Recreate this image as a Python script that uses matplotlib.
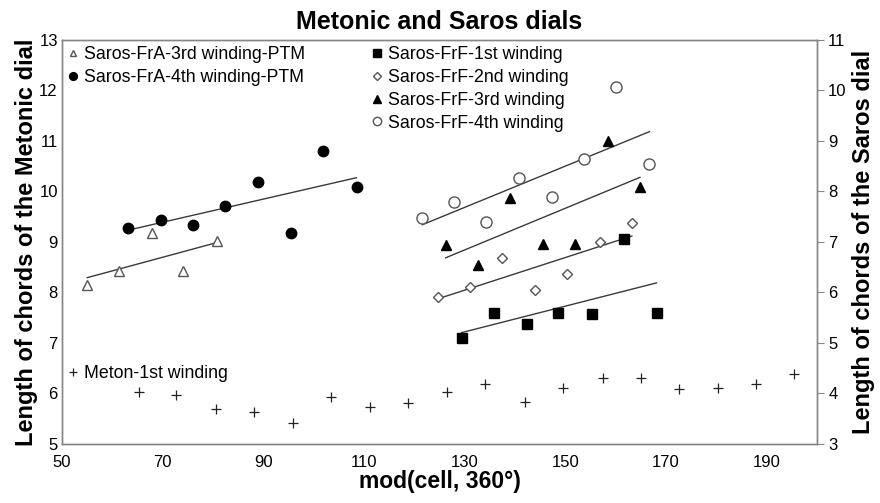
import numpy as np
import matplotlib.pyplot as plt

plt.rcParams['font.family'] = ['Liberation Sans', 'DejaVu Sans']

# Metonic dial (left axis)
meton_x = [65.2, 72.7, 80.6, 88.2, 95.9, 103.5, 111.2, 118.8, 126.4, 134.0,
           141.9, 149.6, 157.4, 165.0, 172.6, 180.3, 187.8, 195.5]
meton_y = [6.02, 5.98, 5.69, 5.64, 5.41, 5.94, 5.74, 5.81, 6.02, 6.18,
           5.84, 6.10, 6.30, 6.30, 6.09, 6.11, 6.19, 6.39]

# Saros dial (right axis)
fra3_x = [55.0, 61.4, 67.9, 74.1, 80.8]
fra3_y = [6.15, 6.43, 7.18, 6.43, 7.01]
fra4_x = [63.2, 69.7, 76.0, 82.4, 89.0, 95.4, 101.9, 108.5]
fra4_y = [7.28, 7.44, 7.34, 7.72, 8.18, 7.17, 8.80, 8.09]

frf1_x = [129.4, 135.8, 142.3, 148.6, 155.2, 161.6, 168.1]
frf1_y = [5.10, 5.60, 5.37, 5.59, 5.57, 7.05, 5.60]
frf2_x = [124.6, 131.1, 137.5, 143.9, 150.4, 156.9, 163.2]
frf2_y = [5.92, 6.10, 6.68, 6.05, 6.37, 6.99, 7.37]
frf3_x = [126.2, 132.6, 139.0, 145.5, 151.9, 158.5, 164.8]
frf3_y = [6.94, 6.54, 7.88, 6.97, 6.97, 9.00, 8.08]
frf4_x = [121.6, 127.9, 134.3, 140.7, 147.3, 153.7, 160.0, 166.7]
frf4_y = [7.47, 7.80, 7.39, 8.27, 7.90, 8.64, 10.06, 8.54]

gray = '#868686'
line_c = '#3a3a3a'

fig = plt.figure(figsize=(8.8, 5.03), dpi=100)
ax = fig.add_axes([0.0705, 0.1173, 0.858, 0.8032])
ax2 = ax.twinx()

ax.set_xlim(50, 200)
ax.set_ylim(5, 13)
ax2.set_ylim(3, 11)
ax.set_xticks(range(50, 200, 20))
ax.set_yticks(range(5, 14))
ax2.set_yticks(range(3, 12))

h_meton, = ax.plot(meton_x, meton_y, ls='none', marker='+', ms=7, mew=0.9,
                   color='#222222', label='Meton-1st winding')


def trend(a, xs, ys):
    k, b = np.polyfit(xs, ys, 1)
    xx = np.array([min(xs), max(xs)])
    a.plot(xx, k * xx + b, color=line_c, lw=1.0, zorder=2)


series = [
    (fra3_x, fra3_y, dict(marker='^', ms=6.5, mfc='white', mec='#555555', mew=1.0),
     'Saros-FrA-3rd winding-PTM'),
    (fra4_x, fra4_y, dict(marker='o', ms=7.5, mfc='black', mec='black'),
     'Saros-FrA-4th winding-PTM'),
    (frf1_x, frf1_y, dict(marker='s', ms=7, mfc='black', mec='black'),
     'Saros-FrF-1st winding'),
    (frf2_x, frf2_y, dict(marker='D', ms=5.5, mfc='white', mec='#555555', mew=1.0),
     'Saros-FrF-2nd winding'),
    (frf3_x, frf3_y, dict(marker='^', ms=7.5, mfc='black', mec='black'),
     'Saros-FrF-3rd winding'),
    (frf4_x, frf4_y, dict(marker='o', ms=8, mfc='white', mec='#555555', mew=1.0),
     'Saros-FrF-4th winding'),
]
handles = []
for xs, ys, st, lab in series:
    trend(ax2, xs, ys)
    h, = ax2.plot(xs, ys, ls='none', label=lab, zorder=3, **st)
    handles.append(h)

for a in (ax, ax2):
    for s in a.spines.values():
        s.set_color(gray)
        s.set_linewidth(1.0)

ax.tick_params(axis='x', length=0, labelsize=12, pad=8)
ax.tick_params(axis='y', length=0, labelsize=12, pad=3)
ax2.tick_params(axis='y', length=5, color=gray, labelsize=12, pad=3)

ax.set_xlabel('mod(cell, 360°)', fontsize=16.5, fontweight='bold', labelpad=0)
ax.set_ylabel('Length of chords of the Metonic dial', fontsize=17,
              fontweight='bold', labelpad=1)
ax2.set_ylabel('Length of chords of the Saros dial', fontsize=17,
               fontweight='bold', labelpad=4)
ax.set_title('Metonic and Saros dials', fontsize=18, fontweight='bold', pad=8)

leg_kw = dict(frameon=False, fontsize=12.8, handlelength=0.6, handletextpad=0.3,
              labelspacing=0.33, borderpad=0, borderaxespad=0, markerscale=0.75,
              loc='upper left')
leg1 = ax2.legend(handles=handles[:2], bbox_to_anchor=(0.008, 0.985), **leg_kw)
ax2.add_artist(leg1)
leg2 = ax2.legend(handles=handles[2:], bbox_to_anchor=(0.41, 0.985), **leg_kw)
ax2.add_artist(leg2)
ax2.legend(handles=[h_meton], bbox_to_anchor=(0.008, 0.195), **leg_kw)

fig.savefig('out.png', dpi=100)
